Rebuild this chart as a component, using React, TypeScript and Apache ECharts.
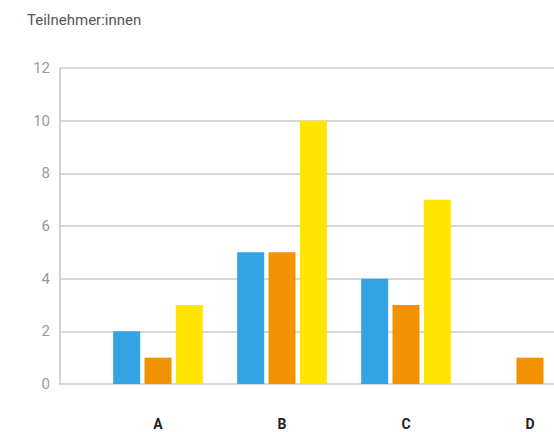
import React, { useEffect, useRef } from "react";
import * as echarts from "echarts";

const title = "Teilnehmer:innen";
const categories = ["A", "B", "C", "D"];
const seriesBlue = [2, 5, 4, 0];
const seriesOrange = [1, 5, 3, 1];
const seriesYellow = [3, 10, 7, 0];
const yMin = 0;
const yMax = 12;
const yStep = 2;

export default function App() {
  const ref = useRef<HTMLDivElement>(null);
  useEffect(() => {
    if (!ref.current) return;
    const chart = echarts.init(ref.current, null, { renderer: "svg" });
    const font = "Roboto, 'Noto Sans', sans-serif";
    const barCommon = {
      type: "bar",
      xAxisIndex: 1,
      yAxisIndex: 1,
      barWidth: 27,
      barGap: "16%",
    };
    chart.setOption({
      animation: false,
      backgroundColor: "#ffffff",
      textStyle: { fontFamily: font },
      title: {
        text: title,
        left: 27,
        top: 12,
        padding: 0,
        textStyle: { fontSize: 15, fontWeight: "normal", color: "#555555", fontFamily: font },
      },
      grid: [
        { left: 60, right: 0, top: 68, bottom: 48 },
        { left: 96, right: 0, top: 68, bottom: 48 },
      ],
      xAxis: [
        { gridIndex: 0, type: "value", min: 0, max: 1, show: false },
        {
          gridIndex: 1,
          type: "category",
          data: categories,
          axisLine: { show: false },
          axisTick: { show: false },
          axisLabel: {
            fontSize: 14,
            fontWeight: "bold",
            color: "#222222",
            margin: 33,
            fontFamily: font,
          },
        },
      ],
      yAxis: [
        {
          gridIndex: 0,
          type: "value",
          min: yMin,
          max: yMax,
          interval: yStep,
          axisLine: { show: true, lineStyle: { color: "#c4c4c4", width: 1.5 } },
          axisTick: { show: false },
          axisLabel: { fontSize: 15, color: "#9a9a9a", margin: 10, fontFamily: font },
          splitLine: { show: true, lineStyle: { color: "#cbcbcb", width: 1.5 } },
        },
        { gridIndex: 1, type: "value", min: yMin, max: yMax, interval: yStep, show: false },
      ],
      series: [
        { ...barCommon, name: "Blau", data: seriesBlue, itemStyle: { color: "#33a3e3" } },
        { ...barCommon, name: "Orange", data: seriesOrange, itemStyle: { color: "#f39200" } },
        { ...barCommon, name: "Gelb", data: seriesYellow, itemStyle: { color: "#ffe500" } },
      ],
    });
    return () => chart.dispose();
  }, []);
  return (
    <div
      style={{
        position: "fixed",
        left: 0,
        top: 0,
        width: 554,
        height: 432,
        overflow: "hidden",
      }}
    >
      <div ref={ref} style={{ width: 592, height: 432 }} />
    </div>
  );
}
